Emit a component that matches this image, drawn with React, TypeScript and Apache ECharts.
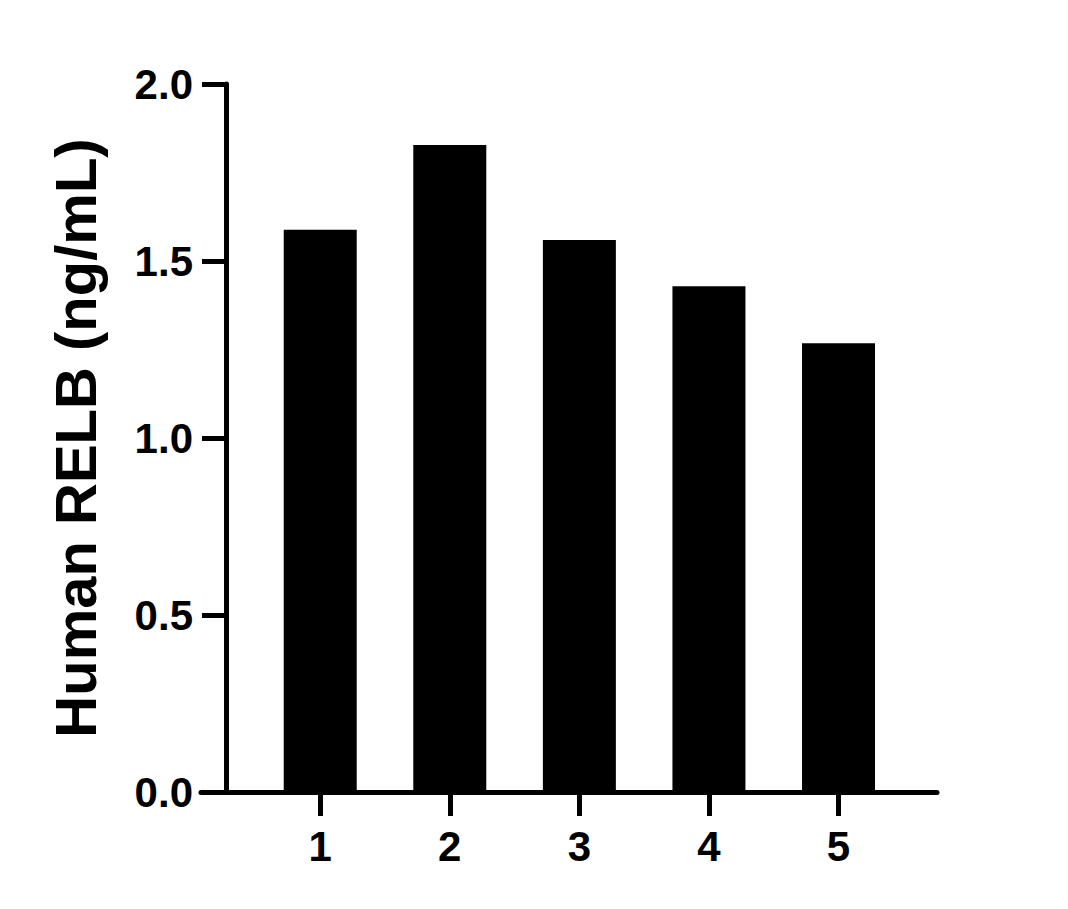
import { useEffect, useRef } from "react";
import * as echarts from "echarts";

const groups = [1, 2, 3, 4, 5];
const relbValues = [1.588, 1.828, 1.559, 1.429, 1.268];
const yTicks = [0, 0.5, 1, 1.5, 2];

const FONT = "'Liberation Sans', Arial, sans-serif";

export default function App() {
  const ref = useRef<HTMLDivElement>(null);

  useEffect(() => {
    document.body.style.margin = "0";
    if (!ref.current) return;
    const chart = echarts.init(ref.current, undefined, { renderer: "svg" });
    chart.setOption({
      animation: false,
      backgroundColor: "#ffffff",
      grid: { left: 201, right: 131, top: 84, bottom: 117 },
      xAxis: {
        type: "value",
        min: 0.08,
        max: 5.76,
        splitLine: { show: false },
        axisLine: { onZero: false, lineStyle: { color: "#000", width: 5 } },
        axisTick: {
          customValues: groups,
          length: 24,
          lineStyle: { color: "#000", width: 5 },
        },
        axisLabel: {
          customValues: groups,
          margin: 33,
          color: "#000",
          fontFamily: FONT,
          fontWeight: "bold",
          fontSize: 42,
        },
      },
      yAxis: {
        type: "value",
        min: yTicks[0],
        max: yTicks[yTicks.length - 1],
        interval: 0.5,
        offset: -25,
        name: "Human RELB (ng/mL)",
        nameLocation: "middle",
        nameGap: 122,
        nameTextStyle: {
          color: "#000",
          fontFamily: FONT,
          fontWeight: "bold",
          fontSize: 58,
        },
        splitLine: { show: false },
        axisLine: { show: true, onZero: false, lineStyle: { color: "#000", width: 5 } },
        axisTick: { show: true, length: 24, lineStyle: { color: "#000", width: 5 } },
        axisLabel: {
          margin: 33,
          color: "#000",
          fontFamily: FONT,
          fontWeight: "bold",
          fontSize: 42,
          formatter: (v: number) => v.toFixed(1),
        },
      },
      series: [
        {
          type: "bar",
          barWidth: 73,
          itemStyle: { color: "#000" },
          data: groups.map((g, i) => [g, relbValues[i]]),
        },
      ],
    });
    return () => chart.dispose();
  }, []);

  return <div ref={ref} style={{ width: 1068, height: 909 }} />;
}
